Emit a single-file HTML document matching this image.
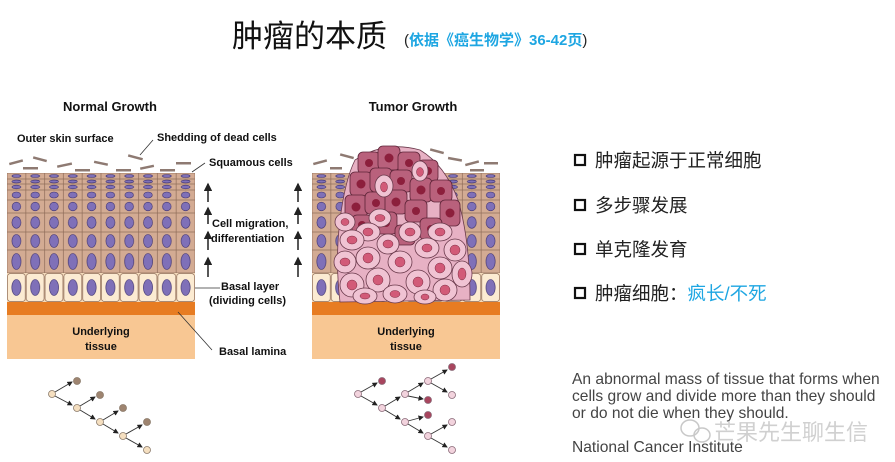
<!DOCTYPE html>
<html><head><meta charset="utf-8"><style>
html,body{margin:0;padding:0;background:#fff;width:895px;height:462px;overflow:hidden}
svg{display:block}
.lb{font-family:"Liberation Sans",Arial,sans-serif;font-weight:bold;fill:#111}
.zh{font-family:"Liberation Sans","Noto Sans CJK SC",sans-serif}
</style></head><body>
<svg width="895" height="462" viewBox="0 0 895 462" xmlns="http://www.w3.org/2000/svg" font-size="11">
<defs>
<pattern id="r1" patternUnits="userSpaceOnUse" x="7" y="173" width="18.8" height="6"><rect width="18.8" height="6" fill="#d3ab93" stroke="#8e6c58" stroke-width="0.7"/><ellipse cx="9.4" cy="3" rx="4.5" ry="1.5" fill="#7f70b8" stroke="#3e3270" stroke-width="0.6"/></pattern>
<pattern id="r2" patternUnits="userSpaceOnUse" x="7" y="179" width="18.8" height="5"><rect width="18.8" height="5" fill="#d3ab93" stroke="#8e6c58" stroke-width="0.7"/><ellipse cx="9.4" cy="2.5" rx="4.5" ry="1.4" fill="#7f70b8" stroke="#3e3270" stroke-width="0.6"/></pattern>
<pattern id="r3" patternUnits="userSpaceOnUse" x="7" y="184" width="18.8" height="6"><rect width="18.8" height="6" fill="#d3ab93" stroke="#8e6c58" stroke-width="0.7"/><ellipse cx="9.4" cy="3" rx="4.5" ry="1.8" fill="#7f70b8" stroke="#3e3270" stroke-width="0.6"/></pattern>
<pattern id="r4" patternUnits="userSpaceOnUse" x="7" y="190" width="18.8" height="10"><rect width="18.8" height="10" fill="#d3ab93" stroke="#8e6c58" stroke-width="0.7"/><ellipse cx="9.4" cy="5" rx="4.3" ry="3" fill="#7f70b8" stroke="#3e3270" stroke-width="0.6"/></pattern>
<pattern id="r5" patternUnits="userSpaceOnUse" x="7" y="200" width="18.8" height="13"><rect width="18.8" height="13" fill="#d3ab93" stroke="#8e6c58" stroke-width="0.7"/><ellipse cx="9.4" cy="6.5" rx="4.3" ry="4.3" fill="#7f70b8" stroke="#3e3270" stroke-width="0.6"/></pattern>
<pattern id="r6" patternUnits="userSpaceOnUse" x="7" y="213" width="18.8" height="19"><rect width="18.8" height="19" fill="#d3ab93" stroke="#8e6c58" stroke-width="0.7"/><ellipse cx="9.4" cy="9.5" rx="4.5" ry="5.8" fill="#7f70b8" stroke="#3e3270" stroke-width="0.6"/></pattern>
<pattern id="r7" patternUnits="userSpaceOnUse" x="7" y="232" width="18.8" height="18"><rect width="18.8" height="18" fill="#d3ab93" stroke="#8e6c58" stroke-width="0.7"/><ellipse cx="9.4" cy="9" rx="4.5" ry="6.5" fill="#7f70b8" stroke="#3e3270" stroke-width="0.6"/></pattern>
<pattern id="r8" patternUnits="userSpaceOnUse" x="7" y="250" width="18.8" height="23"><rect width="18.8" height="23" fill="#d3ab93" stroke="#8e6c58" stroke-width="0.7"/><ellipse cx="9.4" cy="11.5" rx="4.6" ry="8" fill="#7f70b8" stroke="#3e3270" stroke-width="0.6"/></pattern>
<pattern id="r9" patternUnits="userSpaceOnUse" x="7" y="273" width="18.8" height="29"><rect x="0.5" y="0.5" width="17.8" height="28" rx="3" fill="#fcebd2" stroke="#8e6c58" stroke-width="0.7"/><ellipse cx="9.4" cy="14.5" rx="4.6" ry="8" fill="#7f70b8" stroke="#3e3270" stroke-width="0.6"/></pattern>
<g id="tis">
<rect x="7" y="173" width="188" height="6" fill="url(#r1)"/>
<rect x="7" y="179" width="188" height="5" fill="url(#r2)"/>
<rect x="7" y="184" width="188" height="6" fill="url(#r3)"/>
<rect x="7" y="190" width="188" height="10" fill="url(#r4)"/>
<rect x="7" y="200" width="188" height="13" fill="url(#r5)"/>
<rect x="7" y="213" width="188" height="19" fill="url(#r6)"/>
<rect x="7" y="232" width="188" height="18" fill="url(#r7)"/>
<rect x="7" y="250" width="188" height="23" fill="url(#r8)"/>
<rect x="7" y="273" width="188" height="29" fill="#f5dcbc"/>
<rect x="7" y="273" width="188" height="29" fill="url(#r9)"/>
<rect x="7" y="302" width="188" height="13" fill="#e77c22"/>
<rect x="7" y="315" width="188" height="44" fill="#f8c793"/>
<text x="101" y="335" text-anchor="middle" class="lb">Underlying</text>
<text x="101" y="350" text-anchor="middle" class="lb">tissue</text>
</g>
<marker id="ah" markerWidth="6" markerHeight="6" refX="5" refY="3" orient="auto"><path d="M0,0L6,3L0,6z" fill="#222"/></marker>
</defs>

<!-- Title -->
<text x="232" y="47" class="zh" font-size="31" fill="#111">肿瘤的本质</text>
<text x="404" y="45" class="zh" font-size="15" fill="#222">(<tspan font-weight="bold" fill="#1ea6e2" font-size="15">依据《癌生物学》36-42页</tspan>)</text>

<!-- Normal growth -->
<text x="110" y="111" text-anchor="middle" class="lb" font-size="13">Normal Growth</text>
<use href="#tis"/>
<g fill="#8e7a72">
<rect x="9" y="161" width="14" height="2.5" transform="rotate(-15 16 162)"/>
<rect x="33" y="158" width="14" height="2.5" transform="rotate(15 40 159)"/>
<rect x="23" y="167" width="15" height="2.5"/>
<rect x="57" y="164" width="15" height="2.5" transform="rotate(-12 64 165)"/>
<rect x="75" y="169" width="15" height="2.5"/>
<rect x="94" y="162" width="14" height="2.5" transform="rotate(12 101 163)"/>
<rect x="116" y="169" width="15" height="2.5"/>
<rect x="128" y="156" width="15" height="2.5" transform="rotate(15 135 157)"/>
<rect x="140" y="166" width="14" height="2.5" transform="rotate(-12 147 167)"/>
<rect x="160" y="169" width="15" height="2.5"/>
<rect x="176" y="162" width="15" height="2.5"/>
</g>
<g stroke="#333" stroke-width="0.8" fill="none">
<line x1="140" y1="155" x2="153" y2="140"/>
<line x1="192" y1="172" x2="205" y2="163"/>
<line x1="195" y1="288" x2="220" y2="288"/>
<line x1="178" y1="312" x2="212" y2="350"/>
</g>
<text x="17" y="142" class="lb">Outer skin surface</text>
<text x="157" y="141" class="lb">Shedding of dead cells</text>
<text x="209" y="166" class="lb">Squamous cells</text>
<text x="212" y="227" class="lb">Cell migration,</text>
<text x="211" y="242" class="lb">differentiation</text>
<text x="221" y="290" class="lb">Basal layer</text>
<text x="209" y="304" class="lb">(dividing cells)</text>
<text x="219" y="355" class="lb">Basal lamina</text>
<g stroke="#111" stroke-width="1.4" marker-end="url(#ah)">
<line x1="208" y1="202" x2="208" y2="184"/>
<line x1="208" y1="224" x2="208" y2="208"/>
<line x1="208" y1="250" x2="208" y2="232"/>
<line x1="208" y1="277" x2="208" y2="258"/>
<line x1="298" y1="202" x2="298" y2="184"/>
<line x1="298" y1="224" x2="298" y2="208"/>
<line x1="298" y1="250" x2="298" y2="232"/>
<line x1="298" y1="277" x2="298" y2="258"/>
</g>

<!-- Tumor growth -->
<text x="413" y="111" text-anchor="middle" class="lb" font-size="13">Tumor Growth</text>
<use href="#tis" transform="translate(305,0)"/>
<g fill="#8e7a72">
<rect x="313" y="161" width="14" height="2.5" transform="rotate(-15 320 162)"/>
<rect x="340" y="155" width="14" height="2.5" transform="rotate(15 347 156)"/>
<rect x="330" y="167" width="12" height="2.5"/>
<rect x="430" y="150" width="14" height="2.5" transform="rotate(15 437 151)"/>
<rect x="448" y="158" width="14" height="2.5" transform="rotate(10 455 159)"/>
<rect x="465" y="162" width="14" height="2.5" transform="rotate(-15 472 163)"/>
<rect x="470" y="169" width="14" height="2.5"/>
<rect x="484" y="162" width="14" height="2.5"/>
</g>
<!-- mass backdrop -->
<path d="M355,160 Q385,140 420,150 Q445,165 458,200 Q470,240 470,300 L340,302 Q335,260 340,220 Q345,180 355,160z" fill="#e7b1c4" stroke="#6b3a4c" stroke-width="0.8"/>
<!-- dark tumour cells -->
<g fill="#b9617c" stroke="#5e2438" stroke-width="0.8">
<rect x="358" y="152" width="22" height="22" rx="5"/>
<rect x="378" y="146" width="22" height="24" rx="5"/>
<rect x="398" y="152" width="22" height="22" rx="5"/>
<rect x="418" y="160" width="20" height="22" rx="5"/>
<rect x="350" y="172" width="22" height="24" rx="5"/>
<rect x="370" y="168" width="22" height="24" rx="5"/>
<rect x="390" y="170" width="22" height="22" rx="5"/>
<rect x="410" y="178" width="22" height="24" rx="5"/>
<rect x="430" y="180" width="22" height="22" rx="5"/>
<rect x="345" y="195" width="22" height="24" rx="5"/>
<rect x="365" y="192" width="22" height="22" rx="5"/>
<rect x="385" y="190" width="22" height="24" rx="5"/>
<rect x="405" y="200" width="22" height="22" rx="5"/>
<rect x="440" y="200" width="20" height="26" rx="5"/>
<rect x="352" y="215" width="20" height="20" rx="5"/>
<rect x="375" y="212" width="22" height="22" rx="5"/>
<rect x="420" y="218" width="22" height="22" rx="5"/>
<rect x="395" y="225" width="20" height="20" rx="5"/>
</g>
<g fill="#8c1f3c">
<circle cx="369" cy="163" r="4"/><circle cx="389" cy="158" r="4.5"/><circle cx="409" cy="163" r="4"/><circle cx="428" cy="171" r="4"/>
<circle cx="361" cy="184" r="4.5"/><circle cx="381" cy="180" r="4"/><circle cx="401" cy="181" r="4"/><circle cx="421" cy="190" r="4.5"/><circle cx="441" cy="191" r="4"/>
<circle cx="356" cy="207" r="4.5"/><circle cx="376" cy="203" r="4"/><circle cx="396" cy="202" r="4.5"/><circle cx="416" cy="211" r="4"/><circle cx="450" cy="213" r="4.5"/>
<circle cx="362" cy="225" r="4"/><circle cx="386" cy="223" r="4"/><circle cx="431" cy="229" r="4"/><circle cx="405" cy="235" r="4"/>
</g>
<!-- light tumour cells -->
<g fill="#f0c3d3" stroke="#6b3a4c" stroke-width="0.8">
<ellipse cx="384" cy="186" rx="9" ry="11"/>
<ellipse cx="420" cy="171" rx="8" ry="10"/>
<ellipse cx="380" cy="218" rx="11" ry="9"/>
<ellipse cx="345" cy="222" rx="10" ry="9"/>
<ellipse cx="368" cy="232" rx="12" ry="9"/>
<ellipse cx="410" cy="232" rx="11" ry="10"/>
<ellipse cx="440" cy="232" rx="12" ry="9"/>
<ellipse cx="352" cy="240" rx="12" ry="10"/>
<ellipse cx="388" cy="244" rx="11" ry="10"/>
<ellipse cx="427" cy="248" rx="12" ry="10"/>
<ellipse cx="455" cy="250" rx="11" ry="11"/>
<ellipse cx="345" cy="262" rx="11" ry="11"/>
<ellipse cx="368" cy="258" rx="12" ry="11"/>
<ellipse cx="400" cy="262" rx="12" ry="11"/>
<ellipse cx="440" cy="268" rx="12" ry="11"/>
<ellipse cx="462" cy="274" rx="10" ry="13"/>
<ellipse cx="352" cy="285" rx="12" ry="12"/>
<ellipse cx="378" cy="280" rx="12" ry="12"/>
<ellipse cx="418" cy="282" rx="12" ry="12"/>
<ellipse cx="445" cy="290" rx="12" ry="11"/>
<ellipse cx="365" cy="296" rx="12" ry="8"/>
<ellipse cx="395" cy="294" rx="12" ry="9"/>
<ellipse cx="425" cy="297" rx="11" ry="7"/>
</g>
<g fill="#d25a78" stroke="#7a2a40" stroke-width="0.5">
<ellipse cx="384" cy="187" rx="3.5" ry="5"/><ellipse cx="420" cy="172" rx="3.5" ry="4.5"/>
<ellipse cx="380" cy="218" rx="5" ry="3.5"/><ellipse cx="345" cy="222" rx="4" ry="3.5"/><ellipse cx="368" cy="232" rx="5" ry="4"/><ellipse cx="410" cy="232" rx="5" ry="4"/><ellipse cx="440" cy="232" rx="5" ry="4"/>
<ellipse cx="352" cy="240" rx="5" ry="4"/><ellipse cx="388" cy="244" rx="5" ry="4"/><ellipse cx="427" cy="248" rx="5" ry="4"/><ellipse cx="455" cy="250" rx="5" ry="5"/>
<ellipse cx="345" cy="262" rx="5" ry="4"/><ellipse cx="368" cy="258" rx="5" ry="5"/><ellipse cx="400" cy="262" rx="5" ry="5"/><ellipse cx="440" cy="268" rx="5" ry="5"/><ellipse cx="462" cy="274" rx="4" ry="6"/>
<ellipse cx="352" cy="285" rx="5" ry="5"/><ellipse cx="378" cy="280" rx="5" ry="5"/><ellipse cx="418" cy="282" rx="5" ry="5"/><ellipse cx="445" cy="290" rx="5" ry="5"/>
<ellipse cx="365" cy="296" rx="5" ry="3"/><ellipse cx="395" cy="294" rx="5" ry="3.5"/><ellipse cx="425" cy="297" rx="4" ry="3"/>
</g>

<!-- Lineage trees -->
<g stroke="#333" stroke-width="0.9" marker-end="url(#ah)">
<line x1="55" y1="392" x2="72" y2="382"/><line x1="55" y1="396" x2="72" y2="405"/>
<line x1="80" y1="406" x2="95" y2="397"/><line x1="80" y1="410" x2="95" y2="419"/>
<line x1="103" y1="420" x2="118" y2="411"/><line x1="103" y1="424" x2="118" y2="433"/>
<line x1="126" y1="434" x2="142" y2="425"/><line x1="126" y1="438" x2="142" y2="447"/>
<line x1="361" y1="392" x2="377" y2="383"/><line x1="361" y1="396" x2="377" y2="405"/>
<line x1="385" y1="406" x2="400" y2="397"/><line x1="385" y1="410" x2="400" y2="419"/>
<line x1="408" y1="392" x2="423" y2="383"/><line x1="408" y1="396" x2="423" y2="399"/>
<line x1="431" y1="379" x2="447" y2="370"/><line x1="431" y1="383" x2="447" y2="392"/>
<line x1="408" y1="421" x2="423" y2="417"/><line x1="408" y1="424" x2="423" y2="433"/>
<line x1="431" y1="434" x2="447" y2="425"/><line x1="431" y1="438" x2="447" y2="447"/>
</g>
<g stroke="#8a7a6a" stroke-width="0.8">
<circle cx="52" cy="394" r="3.5" fill="#f5dfc0"/><circle cx="77" cy="381" r="3.5" fill="#9e8470"/>
<circle cx="77" cy="408" r="3.5" fill="#f5dfc0"/><circle cx="100" cy="395" r="3.5" fill="#9e8470"/>
<circle cx="100" cy="422" r="3.5" fill="#f5dfc0"/><circle cx="123" cy="408" r="3.5" fill="#9e8470"/>
<circle cx="123" cy="436" r="3.5" fill="#f5dfc0"/><circle cx="147" cy="422" r="3.5" fill="#9e8470"/>
<circle cx="147" cy="450" r="3.5" fill="#f5dfc0"/>
</g>
<g stroke="#8a6a78" stroke-width="0.8">
<circle cx="358" cy="394" r="3.5" fill="#f2d3dd"/><circle cx="382" cy="381" r="3.5" fill="#a8455e"/>
<circle cx="382" cy="408" r="3.5" fill="#f2d3dd"/><circle cx="405" cy="394" r="3.5" fill="#f2d3dd"/>
<circle cx="428" cy="381" r="3.5" fill="#f2d3dd"/><circle cx="452" cy="367" r="3.5" fill="#a8455e"/>
<circle cx="452" cy="395" r="3.5" fill="#f2d3dd"/><circle cx="428" cy="400" r="3.5" fill="#a8455e"/>
<circle cx="405" cy="422" r="3.5" fill="#f2d3dd"/><circle cx="428" cy="415" r="3.5" fill="#a8455e"/>
<circle cx="428" cy="436" r="3.5" fill="#f2d3dd"/><circle cx="452" cy="422" r="3.5" fill="#f2d3dd"/>
<circle cx="452" cy="450" r="3.5" fill="#f2d3dd"/>
</g>

<!-- Right side bullets -->
<g stroke="#111" stroke-width="2.2" fill="none">
<rect x="575" y="155" width="10" height="10"/>
<rect x="575" y="200" width="10" height="10"/>
<rect x="575" y="244" width="10" height="10"/>
<rect x="575" y="288" width="10" height="10"/>
</g>
<g class="zh" font-size="18.5" fill="#222">
<text x="595" y="167">肿瘤起源于正常细胞</text>
<text x="595" y="212">多步骤发展</text>
<text x="595" y="256">单克隆发育</text>
<text x="595" y="300">肿瘤细胞：<tspan fill="#1ea6e2">疯长/不死</tspan></text>
</g>
<g font-family="'Liberation Sans',sans-serif" font-size="15.6" fill="#444">
<text x="572" y="384">An abnormal mass of tissue that forms when</text>
<text x="572" y="401">cells grow and divide more than they should</text>
<text x="572" y="418">or do not die when they should.</text>
<text x="572" y="452">National Cancer Institute</text>
</g>
<text x="714" y="440" class="zh" font-size="22" fill="#c8c8c8" opacity="0.85">芒果先生聊生信</text>
<g fill="none" stroke="#c8c8c8" stroke-width="1.5"><ellipse cx="690" cy="428" rx="9" ry="8"/><ellipse cx="702" cy="435" rx="8" ry="7"/></g>
</svg>
</body></html>
